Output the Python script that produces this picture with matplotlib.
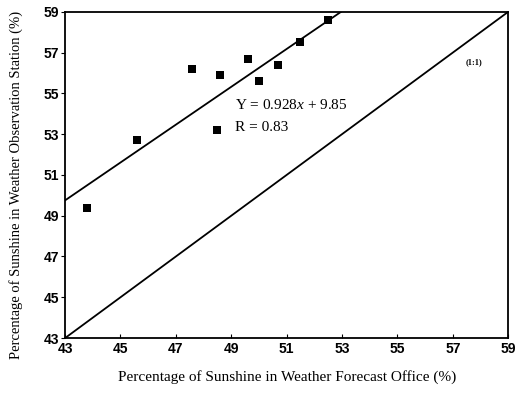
import numpy as np
import matplotlib
matplotlib.use("Agg")
import matplotlib.pyplot as plt

# readings from the scatter (forecast office vs observation station)
office = [43.8, 45.6, 47.6, 48.6, 49.6, 50.0, 50.7, 51.5, 52.5, 48.5]
station = [49.4, 52.7, 56.2, 55.9, 56.7, 55.6, 56.4, 57.5, 58.6, 53.2]

slope = 0.928
icept = 9.85
ticks = [43, 45, 47, 49, 51, 53, 55, 57, 59]

serif = "Liberation Serif"
plt.rcParams["font.family"] = serif
plt.rcParams["mathtext.fontset"] = "custom"
plt.rcParams["mathtext.rm"] = serif
plt.rcParams["mathtext.it"] = serif + ":italic"

fig = plt.figure(figsize=(5.25, 3.94), dpi=100)
ax = fig.add_axes([0.124, 0.142, 0.844, 0.828])

xs = np.array([43, 59])
ax.plot(xs, slope * xs + icept, color="black", lw=1.3)
ax.plot(xs, xs, color="black", lw=1.3)
ax.plot(office, station, linestyle="None", marker="s", ms=6,
        color="black", markeredgewidth=0)

ax.text(49.15, 54.45, "Y = 0.928$x$ + 9.85", fontsize=11, va="center")
ax.text(49.15, 53.35, "R = 0.83", fontsize=11, va="center")
ax.text(57.45, 56.55, "(1:1)", fontsize=6, fontweight="bold", va="center")

ax.set_xlim(43, 59)
ax.set_ylim(43, 59)
ax.set_xticks(ticks)
ax.set_yticks(ticks)
for lab in ax.get_xticklabels() + ax.get_yticklabels():
    lab.set_family("Liberation Sans")
    lab.set_fontweight("bold")
    lab.set_fontsize(10)
ax.tick_params(axis="x", direction="in", length=3, pad=3)
ax.tick_params(axis="y", direction="out", length=3, pad=1)
for s in ax.spines.values():
    s.set_linewidth(1.3)

ax.set_xlabel("Percentage of Sunshine in Weather Forecast Office (%)",
              fontsize=11, labelpad=10)
ax.set_ylabel("Percentage of Sunshine in Weather Observation Station (%)",
              fontsize=10.5)
ax.yaxis.set_label_coords(-0.095, 0.47)

fig.savefig("out.png", dpi=100)
